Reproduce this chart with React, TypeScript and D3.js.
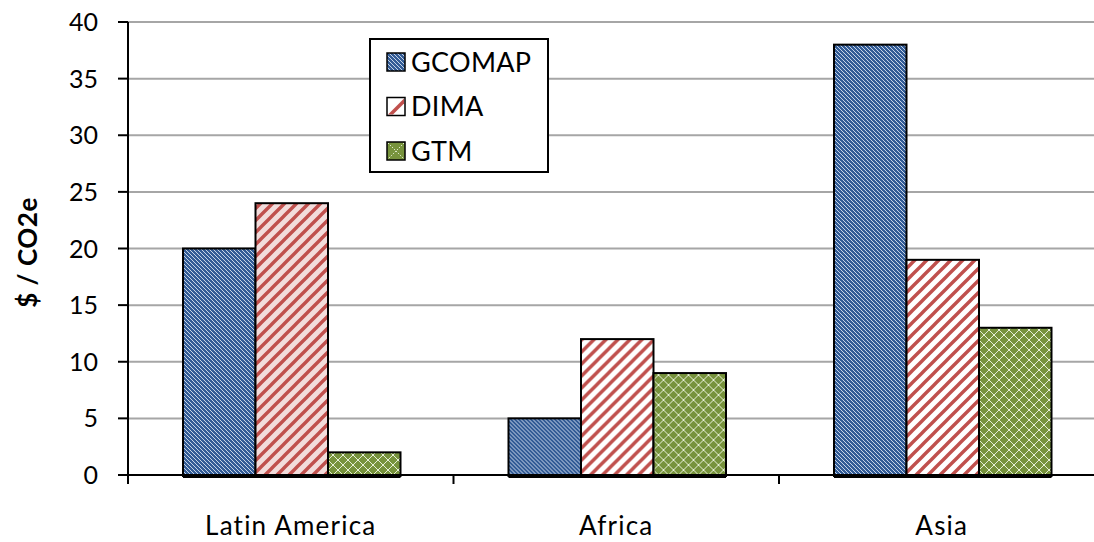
import React from 'react';
import * as d3 from 'd3';

const regions = ['Latin America', 'Africa', 'Asia'];
const models = ['GCOMAP', 'DIMA', 'GTM'];
const gcomap = [20, 5, 38];
const dima = [24, 12, 19];
const gtm = [2, 9, 13];
const yTicks = [0, 5, 10, 15, 20, 25, 30, 35, 40];

const W = 1094;
const H = 542;
const FONT = 'Lato, "Open Sans", sans-serif';

const App: React.FC = () => {
  const x0 = d3.scaleBand<string>().domain(regions).range([128, 128 + 3 * 325.5]).padding(0);
  const x1 = d3.scaleBand<string>().domain(models).range([55, 55 + 3 * 72.5]).padding(0);
  const y = d3.scaleLinear().domain([0, 40]).range([475, 22]);

  const values: Record<string, number[]> = { GCOMAP: gcomap, DIMA: dima, GTM: gtm };
  const fillFor = (m: string, i: number) => {
    if (m === 'GCOMAP') return 'url(#pGcomap)';
    if (m === 'DIMA') return i === 0 ? 'url(#pDimaPink)' : 'url(#pDima)';
    return 'url(#pGtm)';
  };

  return (
    <svg width={W} height={H} style={{ position: 'absolute', left: 0, top: 0, background: '#fff' }}>
      <defs>
        <pattern id="pGcomap" width="4" height="4" patternUnits="userSpaceOnUse">
          <rect width="4" height="4" fill="#335C96" />
          <path d="M-1,-1 L5,5 M-1,3 L1,5 M3,-1 L5,1" stroke="#d7e2f1" strokeWidth="0.9" />
        </pattern>
        <pattern id="pDima" width="12" height="12" patternUnits="userSpaceOnUse">
          <rect width="12" height="12" fill="#fff" />
          <path d="M-3,15 L15,-3 M-3,3 L3,-3 M9,15 L15,9" stroke="#C0504D" strokeWidth="3.4" />
        </pattern>
        <pattern id="pDimaPink" width="12" height="12" patternUnits="userSpaceOnUse">
          <rect width="12" height="12" fill="#F2DCDB" />
          <path d="M-3,15 L15,-3 M-3,3 L3,-3 M9,15 L15,9" stroke="#C0504D" strokeWidth="3.4" />
        </pattern>
        <pattern id="pGtm" width="10" height="10" patternUnits="userSpaceOnUse">
          <rect width="10" height="10" fill="#77933C" />
          <path d="M0,0 L10,10 M10,0 L0,10" stroke="#e6efd6" strokeWidth="1" />
        </pattern>
      </defs>

      {/* gridlines */}
      {yTicks.slice(1).map(t => (
        <line key={t} x1={128} x2={W} y1={y(t)} y2={y(t)} stroke="#a6a6a6" strokeWidth={2} />
      ))}

      {/* bars */}
      {regions.map((r, i) => (
        <g key={r} transform={`translate(${x0(r)},0)`}>
          {models.map(m => (
            <rect
              key={m}
              x={x1(m)}
              y={y(values[m][i])}
              width={x1.bandwidth()}
              height={y(0) - y(values[m][i]) + 1}
              fill={fillFor(m, i)}
              stroke="#000"
              strokeWidth={2}
            />
          ))}
          <line x1={x1('GCOMAP')} x2={(x1('GTM') as number) + x1.bandwidth()} y1={y(0) + 1.5} y2={y(0) + 1.5} stroke="#000" strokeWidth={3} />
        </g>
      ))}

      {/* y axis */}
      <line x1={128} x2={128} y1={y(40)} y2={y(0) + 9} stroke="#000" strokeWidth={2} />
      {yTicks.map(t => (
        <g key={t}>
          <line x1={118} x2={128} y1={y(t)} y2={y(t)} stroke="#000" strokeWidth={2} />
          <text x={98} y={y(t)} dy="0.36em" textAnchor="end" fontFamily={FONT} fontSize={25} fill="#000">
            {t}
          </text>
        </g>
      ))}
      <text
        transform={`translate(37,${(y(0) + y(40)) / 2 + 4}) rotate(-90)`}
        textAnchor="middle"
        fontFamily={FONT}
        fontSize={26}
        fontWeight="bold"
        letterSpacing={0.5}
        fill="#000"
      >
        $ / CO2e
      </text>

      {/* x axis */}
      <line x1={118} x2={W} y1={y(0)} y2={y(0)} stroke="#000" strokeWidth={2} />
      {regions.map(r => (
        <line key={r} x1={x0(r)} x2={x0(r)} y1={y(0)} y2={y(0) + 9} stroke="#000" strokeWidth={2} />
      ))}
      {regions.map(r => (
        <text
          key={r}
          x={(x0(r) as number) + x0.bandwidth() / 2}
          y={535}
          textAnchor="middle"
          fontFamily={FONT}
          fontSize={26}
          letterSpacing={1.2}
          fill="#000"
        >
          {r}
        </text>
      ))}

      {/* legend */}
      <rect x={370} y={39} width={178} height={133} fill="#fff" stroke="#000" strokeWidth={2} />
      {models.map((m, i) => {
        const cy = 62 + i * 44.5;
        return (
          <g key={m}>
            {m === 'GCOMAP' && <rect x={387} y={cy - 9} width={18} height={18} fill="url(#pGcomap)" stroke="#000" strokeWidth={1.5} />}
            {m === 'DIMA' && (
              <g>
                <rect x={387} y={cy - 9} width={18} height={18} fill="#fff" />
                <path d={`M${388},${cy + 8} L${404},${cy - 8} L${404},${cy - 3} L${393},${cy + 8} Z`} fill="#C0504D" />
                <rect x={387} y={cy - 9} width={18} height={18} fill="none" stroke="#000" strokeWidth={1.5} />
              </g>
            )}
            {m === 'GTM' && (
              <g>
                <rect x={387} y={cy - 9} width={18} height={18} fill="#77933C" stroke="#000" strokeWidth={1.5} />
                <path d={`M${388},${cy - 8} L${404},${cy + 8} M${404},${cy - 8} L${388},${cy + 8}`} stroke="#e6efd6" strokeWidth={1} strokeDasharray="1.4 1.4" />
              </g>
            )}
            <text x={411} y={cy} dy="0.36em" fontFamily={FONT} fontSize={27} letterSpacing={0.3} fill="#000">
              {m}
            </text>
          </g>
        );
      })}
    </svg>
  );
};

export default App;
